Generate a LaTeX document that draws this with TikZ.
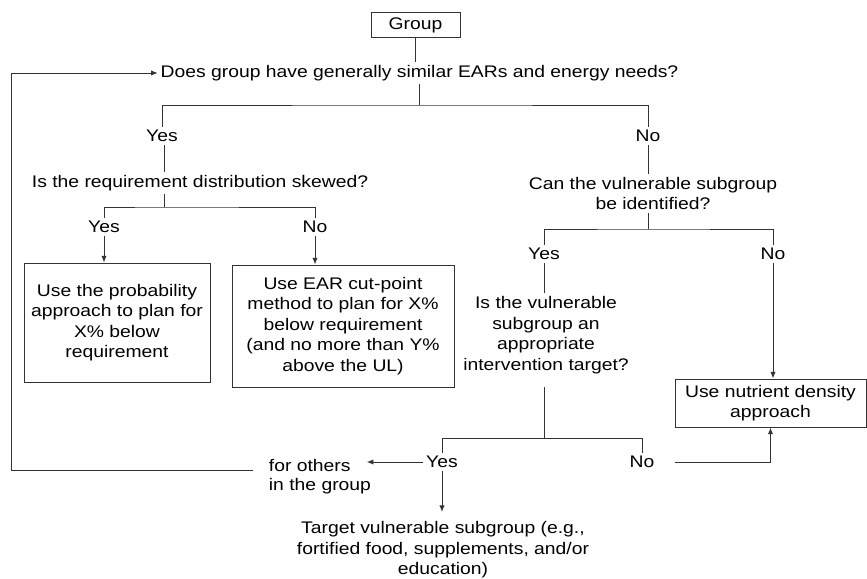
\documentclass[tikz,border=0pt]{standalone}
\usepackage{fontspec}
\setmainfont{Liberation Sans}[FakeStretch=1.15]
\usetikzlibrary{arrows.meta}

\begin{document}
\begin{tikzpicture}[x=0.75pt, y=-0.75pt,
		every node/.style={font=\fontsize{12.6}{15.4}\selectfont, inner sep=2pt},
		txt/.style={align=center},
		box/.style={draw=black!80, line width=0.75pt, align=center},
		line/.style={draw=black!80, line width=0.75pt},
		arr/.style={line, -{Latex[length=5pt, width=4pt]}}]

		\useasboundingbox (0,0) rectangle (867,578);

		% Top of the tree
		\node[box, minimum width=66.75pt, minimum height=18.75pt] (group) at (415.5,25.2) {Group};
		\node[txt] (q1) at (419.5,73) {Does group have generally similar EARs and energy needs?};
		\node (yes1) at (162,136) {Yes};
		\node (no1) at (648,136) {No};

		% Similar needs: left branch
		\node[txt] (q2) at (200,183) {Is the requirement distribution skewed?};
		\node (yes2) at (104,227) {Yes};
		\node (no2) at (315,227) {No};
		\node[box, minimum width=139.5pt, minimum height=89.25pt] (prob) at (117,322.5)
		{Use the probability\\approach to plan for\\X\% below\\requirement};
		\node[box, minimum width=166.5pt, minimum height=91.5pt] (cut) at (343,326)
		{Use EAR cut-point\\method to plan for X\%\\below requirement\\(and no more than Y\%\\above the UL)};

		% Not similar: right branch
		\node[txt] (q3) at (653,193.5) {Can the vulnerable subgroup\\be identified?};
		\node (yes3) at (544,254) {Yes};
		\node (no3) at (773,254) {No};
		\node[txt] (q4) at (546,335) {Is the vulnerable\\subgroup an\\appropriate\\intervention target?};
		\node[box, minimum width=143.25pt, minimum height=36pt] (nut) at (770.5,403)
		{Use nutrient density\\approach};
		\node (yes4) at (442,462) {Yes};
		\node (no4) at (642,462) {No};
		\node[anchor=west] (others) at (266,465) {for others};
		\node[anchor=west] (others2) at (266,486) {in the group};
		\node[txt] (target) at (443,550)
		{Target vulnerable subgroup (e.g.,\\fortified food, supplements, and/or\\education)};

		% Junctions
		\coordinate (j1) at (419,105);
		\coordinate (j2) at (164,207);
		\coordinate (j3) at (648,229);
		\coordinate (j4) at (544,438.7);
		\coordinate (loop) at (11.7,73);

		% Connectors
		\draw[line] (group.south) -- (group.south |- q1.north);
		\draw[line] (q1.south -| j1) -- (j1);
		\draw[line] (yes1.north) |- (j1) -| (no1.north);
		\draw[line] (yes1.south -| j2) -- (j2 |- q2.north);
		\draw[line] (q2.south -| j2) -- (j2);
		\draw[line] (yes2.north) |- (j2) -| (no2.north);
		\draw[arr] (yes2.south) -- (yes2.south |- prob.north);
		\draw[arr] (no2.south) -- (no2.south |- cut.north);

		\draw[line] (no1.south) -- (no1.south |- q3.north);
		\draw[line] (q3.south -| j3) -- (j3);
		\draw[line] (yes3.north) |- (j3) -| (no3.north);
		\draw[line] (yes3.south) -- (yes3.south |- q4.north);
		\draw[arr] (no3.south) -- (no3.south |- nut.north);
		\draw[line] ([yshift=-8pt]q4.south -| j4) -- (j4);
		\draw[line] (yes4.north) |- (j4) -| (no4.north);
		\draw[arr] ([xshift=13pt]no4.east) -| (nut.south);
		\draw[arr] (yes4.west) -- ([xshift=10pt]others.east |- yes4.west);
		\draw[arr] (yes4.south) -- ([yshift=5pt]yes4.south |- target.north);

		% Back to the first question
		\draw[arr] ([xshift=-10pt, yshift=-4pt]others.west) -| (loop) -- (q1.west);
	\end{tikzpicture}
\end{document}
